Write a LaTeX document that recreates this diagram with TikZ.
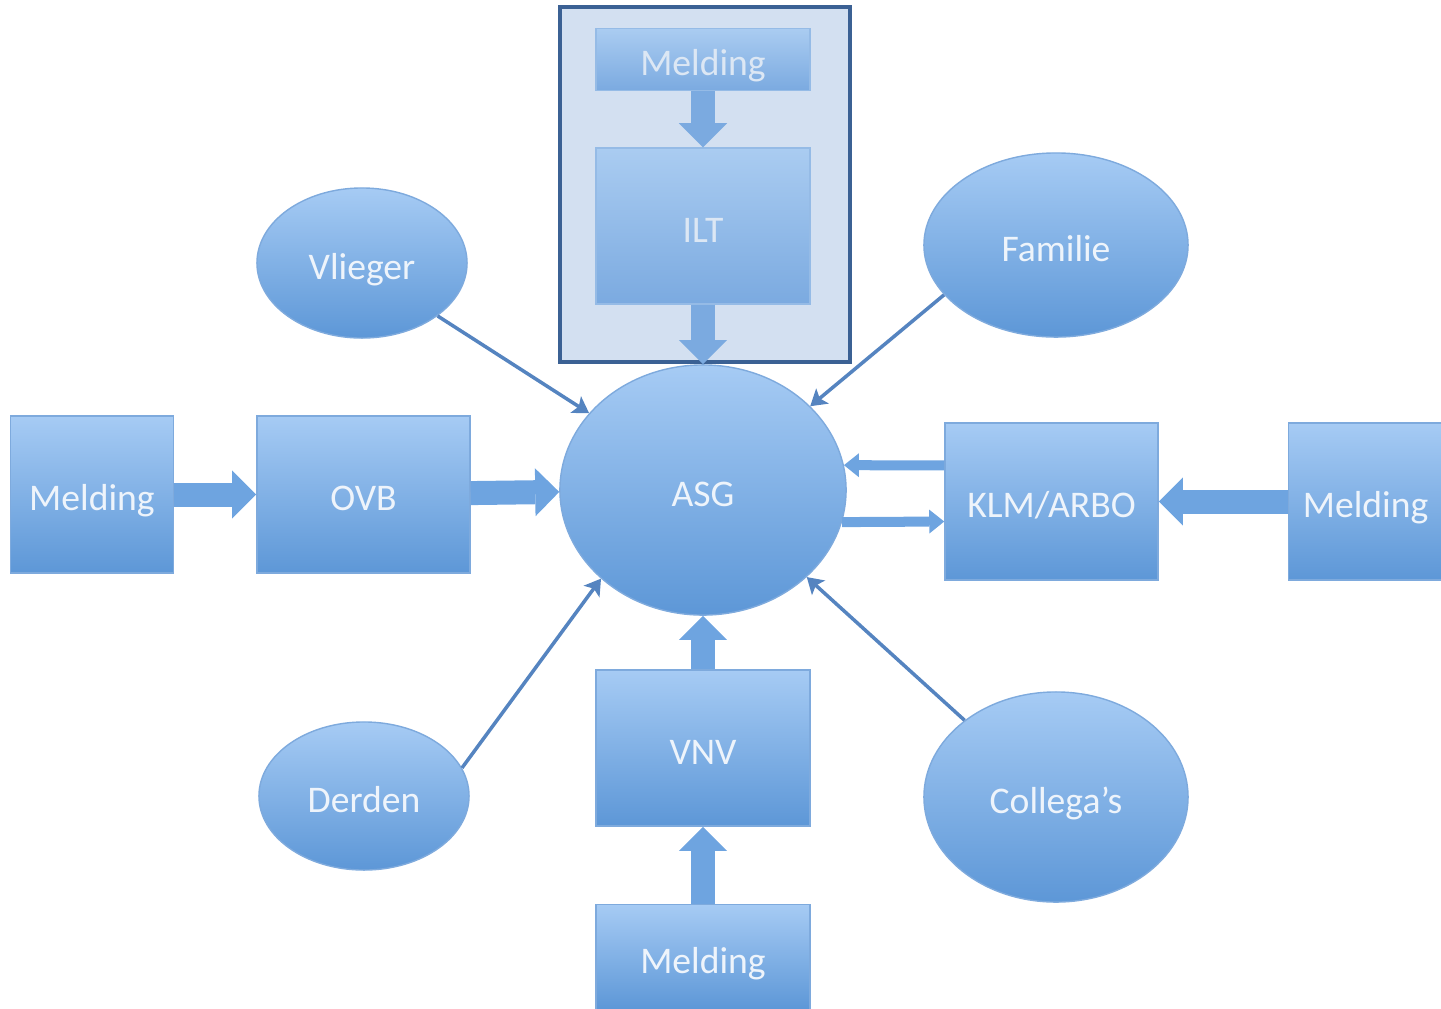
\documentclass[tikz,border=0pt]{standalone}
\usepackage{fontspec}
\setmainfont{Carlito}
\usetikzlibrary{positioning}
\usetikzlibrary{arrows.meta}
\usetikzlibrary{shapes.geometric}
\definecolor{boxtop}{HTML}{A6CBF4}
\definecolor{boxbot}{HTML}{5D97D7}
\definecolor{boxedge}{HTML}{7EAADD}
\definecolor{boxtext}{HTML}{EEF4FB}
\definecolor{fadetop}{HTML}{AACCF1}
\definecolor{fadebot}{HTML}{7BAAE0}
\definecolor{fadetext}{HTML}{DCE7F4}
\definecolor{framefill}{HTML}{D3E0F1}
\definecolor{frameedge}{HTML}{3B6194}
\definecolor{flowblue}{HTML}{6EA4E0}
\definecolor{linkblue}{HTML}{5584C0}
\newcommand{\labelfont}{\fontsize{10.7}{12}\selectfont}
\tikzset{
  unit/.style={rectangle,draw=boxedge,line width=0.4pt,
               top color=boxtop,bottom color=boxbot,
               text=boxtext,font=\labelfont,inner sep=0pt,
               text height=9.1pt,text depth=0pt},
  fadedunit/.style={unit,draw=fadebot!80,top color=fadetop,
                    bottom color=fadebot,text=fadetext},
  party/.style={ellipse,draw=boxedge,line width=0.4pt,
                top color=boxtop,bottom color=boxbot,
                text=boxtext,font=\labelfont,inner sep=0pt,
                text height=9.1pt,text depth=0pt},
  frame/.style={rectangle,draw=frameedge,fill=framefill,line width=0.04cm},
  bigflow/.style={draw=flowblue,line width=0.24cm,
                  -{Triangle[length=0.24cm,width=0.48cm,line width=0pt]}},
  fadedflow/.style={bigflow,draw=fadebot},
  smallflow/.style={draw=flowblue,line width=0.1cm,
                    -{Triangle[length=0.15cm,width=0.24cm,line width=0pt]}},
  report/.style={draw=linkblue,line width=1pt,
                 -{Stealth[length=4.5pt,width=5.5pt,inset=1pt]}},
}
\begin{document}
\begin{tikzpicture}[x=0.01cm,y=-0.01cm]
    \useasboundingbox (0,0) rectangle (1441,1008);

    % ILT frame
    \node[frame,minimum width=2.9cm,minimum height=3.55cm] (iltframe) at (705,184.5) {};
    \node[fadedunit,minimum width=2.14cm,minimum height=1.56cm] (ilt) at (703,226) {ILT};
    \node[fadedunit,minimum width=2.14cm,minimum height=0.62cm] (topmel) [above=0.56cm of ilt] {Melding};

    % Centre
    \node[party,minimum width=2.86cm,minimum height=2.5cm] (asg) at (703,490) {ASG};

    % Parties
    \node[party,minimum width=2.1cm,minimum height=1.5cm]   (vlieger)  at (362,263)  {Vlieger};
    \node[party,minimum width=2.64cm,minimum height=1.84cm] (familie)  at (1056,245) {Familie};
    \node[party,minimum width=2.1cm,minimum height=1.48cm]  (derden)   at (364,796)  {Derden};
    \node[party,minimum width=2.64cm,minimum height=2.1cm]  (collegas) at (1056,797) {Collega’s};

    % Organisations
    \node[unit,minimum width=2.13cm,minimum height=1.57cm] (ovb)      at (363.5,494.5)  {OVB};
    \node[unit,minimum width=1.63cm,minimum height=1.57cm] (leftmel)  [left=0.82cm of ovb] {Melding};
    \node[unit,minimum width=2.13cm,minimum height=1.57cm] (klm)      at (1051.5,501.5) {KLM/ARBO};
    \node[unit,minimum width=1.54cm,minimum height=1.57cm] (rightmel) [right=1.29cm of klm] {Melding};
    \node[unit,minimum width=2.14cm,minimum height=1.56cm] (vnv)      at (703,748) {VNV};
    \node[unit,minimum width=2.14cm,minimum height=1.05cm] (botmel)   [below=0.77cm of vnv] {Melding};

    % Report flows
    \draw[fadedflow] (topmel) -- (ilt);
    \draw[fadedflow] (ilt) -- (asg);
    \draw[bigflow] (leftmel) -- (ovb);
    \draw[bigflow] (ovb) -- (asg);
    \draw[bigflow] (rightmel) -- (klm);
    \draw[bigflow] (vnv) -- (asg);
    \draw[bigflow] (botmel) -- (vnv);
    \draw[smallflow] ([yshift=0.36cm]klm.west) -- (asg.10);
    \draw[smallflow] (asg.-13) -- ([yshift=-0.2cm]klm.west);

    % Direct reports
    \draw[report] (vlieger.-35) -- (asg.146);
    \draw[report] (familie.204) -- (asg.38);
    \draw[report] (derden.16)   -- (asg.221);
    \draw[report] (collegas.140) -- (asg.-40);
\end{tikzpicture}
\end{document}
